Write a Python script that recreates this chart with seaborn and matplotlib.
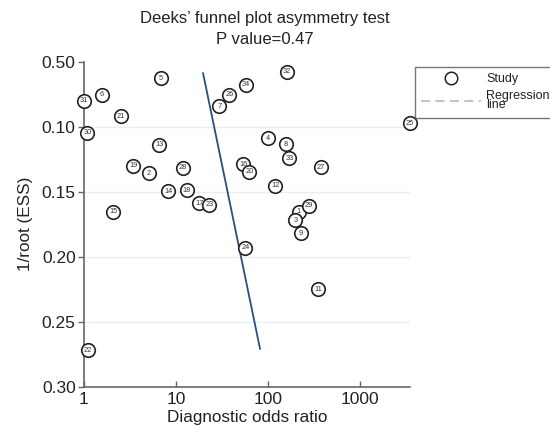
import numpy as np
import pandas as pd
import matplotlib
matplotlib.use("Agg")
import matplotlib.pyplot as plt
import seaborn as sns
from matplotlib.lines import Line2D

# ---- data ----
study_labels = ["1", "2", "3", "4", "5", "6", "7", "8", "9", "11", "12", "13", "14", "15",
                "16", "17", "18", "19", "20", "21", "22", "23", "24", "25", "26", "27",
                "28", "29", "30", "31", "32", "33", "34"]
dor = [216, 5.05, 198, 100.8, 6.82, 1.56, 29.6, 157, 227, 352, 120, 6.59, 8.25, 2.07,
       53.9, 17.9, 13.1, 3.43, 62.6, 2.5, 1.11, 23, 56.7, 3490, 37.9, 374,
       11.8, 277, 1.09, 1.0, 159.7, 170.5, 57.7]
inv_root_ess = [0.1654, 0.1359, 0.1718, 0.1089, 0.0628, 0.0756, 0.0841, 0.1135, 0.182,
                0.2249, 0.1456, 0.114, 0.1495, 0.1656, 0.1287, 0.159, 0.1487, 0.130,
                0.1346, 0.0918, 0.2718, 0.1602, 0.193, 0.0974, 0.0756, 0.1312, 0.1315,
                0.1608, 0.1046, 0.0802, 0.0577, 0.1243, 0.0679]
# regression: log10(DOR) = intercept + slope * (1/root ESS)
reg_intercept = 1.122
reg_slope = 2.92
reg_y_range = [0.0587, 0.271]

y_ticks = [0.05, 0.10, 0.15, 0.20, 0.25, 0.30]
y_tick_labels = ["0.50", "0.10", "0.15", "0.20", "0.25", "0.30"]
x_ticks = [1, 10, 100, 1000]
x_tick_labels = ["1", "10", "100", "1000"]

df = pd.DataFrame({"label": study_labels, "dor": dor, "y": inv_root_ess})
reg_y = np.array(reg_y_range)
reg_df = pd.DataFrame({"y": reg_y, "dor": 10 ** (reg_intercept + reg_slope * reg_y)})

# ---- style ----
sns.set_style("ticks")
plt.rcParams["font.family"] = ["Liberation Sans", "DejaVu Sans"]

fig = plt.figure(figsize=(5.5, 4.36), dpi=100)
ax = fig.add_axes([0.1527, 0.113, 0.5928, 0.7455])

ax.set_xscale("log")
ax.set_xlim(1, 3490)
ax.set_ylim(0.30, 0.05)

for yv in y_ticks[1:-1]:
    ax.axhline(yv, color="#e4eff6", lw=1.0, zorder=0)

sns.lineplot(data=reg_df, x="dor", y="y", sort=False, estimator=None, ax=ax,
             color="#2c4f7e", lw=1.3, zorder=2, legend=False)
sns.scatterplot(data=df, x="dor", y="y", ax=ax, s=95, facecolor="white",
                edgecolor="#222222", linewidth=1.2, zorder=3, legend=False, clip_on=False)
for lab, xv, yv in zip(study_labels, dor, inv_root_ess):
    ax.text(xv, yv, lab, fontsize=5.3, ha="center", va="center", color="#333333",
            zorder=4, clip_on=False)

ax.set_xticks(x_ticks)
ax.set_xticklabels(x_tick_labels)
ax.xaxis.set_minor_locator(matplotlib.ticker.NullLocator())
ax.set_yticks(y_ticks)
ax.set_yticklabels(y_tick_labels)

for side in ["top", "right"]:
    ax.spines[side].set_visible(False)
for side in ["left", "bottom"]:
    ax.spines[side].set_color("#666666")
    ax.spines[side].set_linewidth(1.2)
ax.tick_params(axis="y", direction="out", length=4, width=1, color="#666666",
               labelsize=12.5, labelcolor="#222222", pad=2)
ax.tick_params(axis="x", direction="in", length=4, width=1, color="#666666",
               labelsize=12.5, labelcolor="#222222", pad=4)

ax.set_xlabel("Diagnostic odds ratio", fontsize=12.3, color="#222222", labelpad=2)
ax.set_ylabel("1/root (ESS)", fontsize=12.3, color="#222222", labelpad=6)

fig.text(265 / 550, 1 - 18 / 436, "Deeks\u2019 funnel plot asymmetry test", ha="center",
         va="center", fontsize=12, color="#222222")
fig.text(265 / 550, 1 - 39 / 436, "P value=0.47", ha="center", va="center",
         fontsize=12, color="#222222")

handles = [
    Line2D([], [], marker="o", linestyle="none", markersize=9, markerfacecolor="white",
           markeredgecolor="#222222", markeredgewidth=1.1),
    Line2D([], [], linestyle=(0, (5, 3)), color="#a9c2da", lw=1.3),
]
leg = ax.legend(handles, ["Study", "Regression\nline"], loc="upper left",
                bbox_to_anchor=(415 / 550, 1 - 67 / 436), bbox_transform=fig.transFigure,
                frameon=True, fancybox=False, fontsize=9, handlelength=4.8,
                handletextpad=0.4, borderpad=0.5, labelspacing=0.35, borderaxespad=0)
leg.get_frame().set_edgecolor("#555555")
leg.get_frame().set_linewidth(1.0)
for t in leg.get_texts():
    t.set_linespacing(0.75)
    t.set_color("#222222")

fig.savefig("out.png", dpi=100)
